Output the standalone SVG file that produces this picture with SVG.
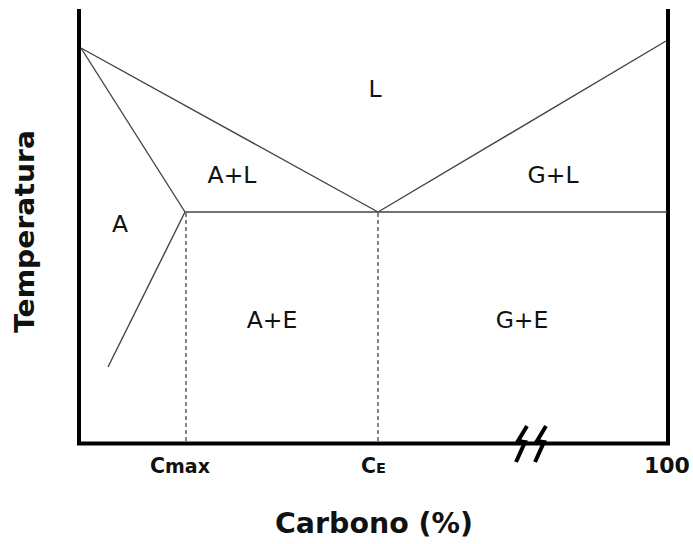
<svg xmlns="http://www.w3.org/2000/svg" width="693" height="544" viewBox="0 0 693 544">
<style>
.ax{stroke:#000;stroke-width:4;fill:none}
.ln{stroke:#444;stroke-width:1.4;fill:none}
.ds{stroke:#222;stroke-width:1.1;stroke-dasharray:4,3;fill:none}
.lb{font-family:"DejaVu Sans",Verdana,sans-serif;font-size:23.5px;fill:#111}
.bd{font-family:"DejaVu Sans","Liberation Sans",sans-serif;font-weight:bold;fill:#111}
</style>
<rect width="693" height="544" fill="#fff"/>
<g id="axes">
<polyline class="ax" points="79,9 79,443.5 668,443.5 668,9"/>
<path class="ax" stroke-width="3" d="M527,426 L518,441 L525,442 L516,462 M546,426 L537,441 L544,442 L535,462"/>
</g>
<g id="connectors">
<line class="ln" x1="81" y1="48" x2="378" y2="212"/>
<line class="ln" x1="81" y1="48" x2="185" y2="212"/>
<line class="ln" x1="185" y1="212" x2="108" y2="367"/>
<line class="ln" x1="185" y1="212" x2="667" y2="212"/>
<line class="ln" x1="378" y1="212" x2="666" y2="41"/>
<line class="ds" x1="186" y1="213" x2="186" y2="442"/>
<line class="ds" x1="378" y1="213" x2="378" y2="442"/>
</g>
<g id="regions">
<text class="lb" x="375" y="97" text-anchor="middle">L</text>
<text class="lb" x="232" y="183" text-anchor="middle">A+L</text>
<text class="lb" x="553" y="183" text-anchor="middle">G+L</text>
<text class="lb" x="120" y="232" text-anchor="middle">A</text>
<text class="lb" x="272" y="328" text-anchor="middle">A+E</text>
<text class="lb" x="522" y="328" text-anchor="middle">G+E</text>
</g>
<g id="ticks">
<text class="bd" x="150" y="473" font-size="20.5">C<tspan font-size="19">max</tspan></text>
<text class="bd" x="361" y="473" font-size="20.5">C<tspan font-size="14.5">E</tspan></text>
<text class="bd" x="644" y="473" font-size="22">100</text>
</g>
<g id="titles">
<text class="bd" x="275" y="533" font-size="27.5" textLength="198" lengthAdjust="spacingAndGlyphs">Carbono (%)</text>
<text class="bd" transform="translate(34,333) rotate(-90)" x="0" y="0" font-size="27" textLength="203" lengthAdjust="spacingAndGlyphs">Temperatura</text>
</g>
</svg>
